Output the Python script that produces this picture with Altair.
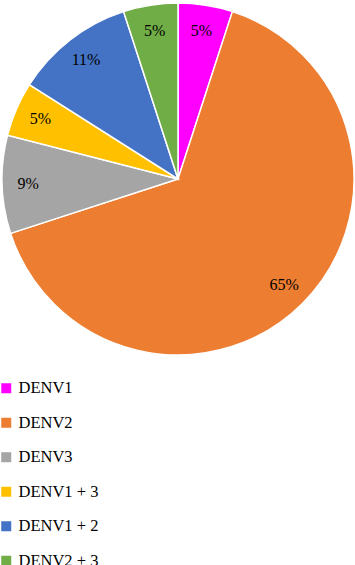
import altair as alt
import pandas as pd

# Dengue serotype distribution
serotypes = ["DENV1", "DENV2", "DENV3", "DENV1 + 3", "DENV1 + 2", "DENV2 + 3"]
shares = [5, 65, 9, 5, 11, 5]
colors = ["#FF00FF", "#ED7D31", "#A5A5A5", "#FFC000", "#4472C4", "#70AD47"]

df = pd.DataFrame({
    "serotype": serotypes,
    "share": shares,
    "idx": list(range(len(serotypes))),
    "label": [f"{v}%" for v in shares],
})

cx, cy, r = 178, 179, 176
font = "Liberation Serif"

base = alt.Chart(df).encode(
    theta=alt.Theta("share:Q", stack=True),
    order=alt.Order("idx:Q"),
    x=alt.value(cx),
    y=alt.value(cy),
)

slices = base.mark_arc(radius=r, stroke="white", strokeWidth=1.5).encode(
    color=alt.Color(
        "serotype:N",
        scale=alt.Scale(domain=serotypes, range=colors),
        sort=serotypes,
        legend=alt.Legend(
            title=None,
            orient="none",
            legendX=-2,
            legendY=380,
            symbolType="square",
            symbolSize=100,
            symbolStrokeWidth=0,
            labelFont=font,
            labelFontSize=16.5,
            labelColor="#000000",
            labelOffset=4,
            rowPadding=17.5,
        ),
    )
)

labels = base.mark_text(
    radius=150, font=font, fontSize=16, color="#000000", baseline="middle", align="center"
).encode(text="label:N")

chart = (
    alt.layer(slices, labels)
    .properties(width=355, height=565, autosize=alt.AutoSizeParams(type="none"), padding=0)
    .configure_view(stroke=None)
)

chart.save("out.html", embed_options={"renderer": "svg", "actions": False})
